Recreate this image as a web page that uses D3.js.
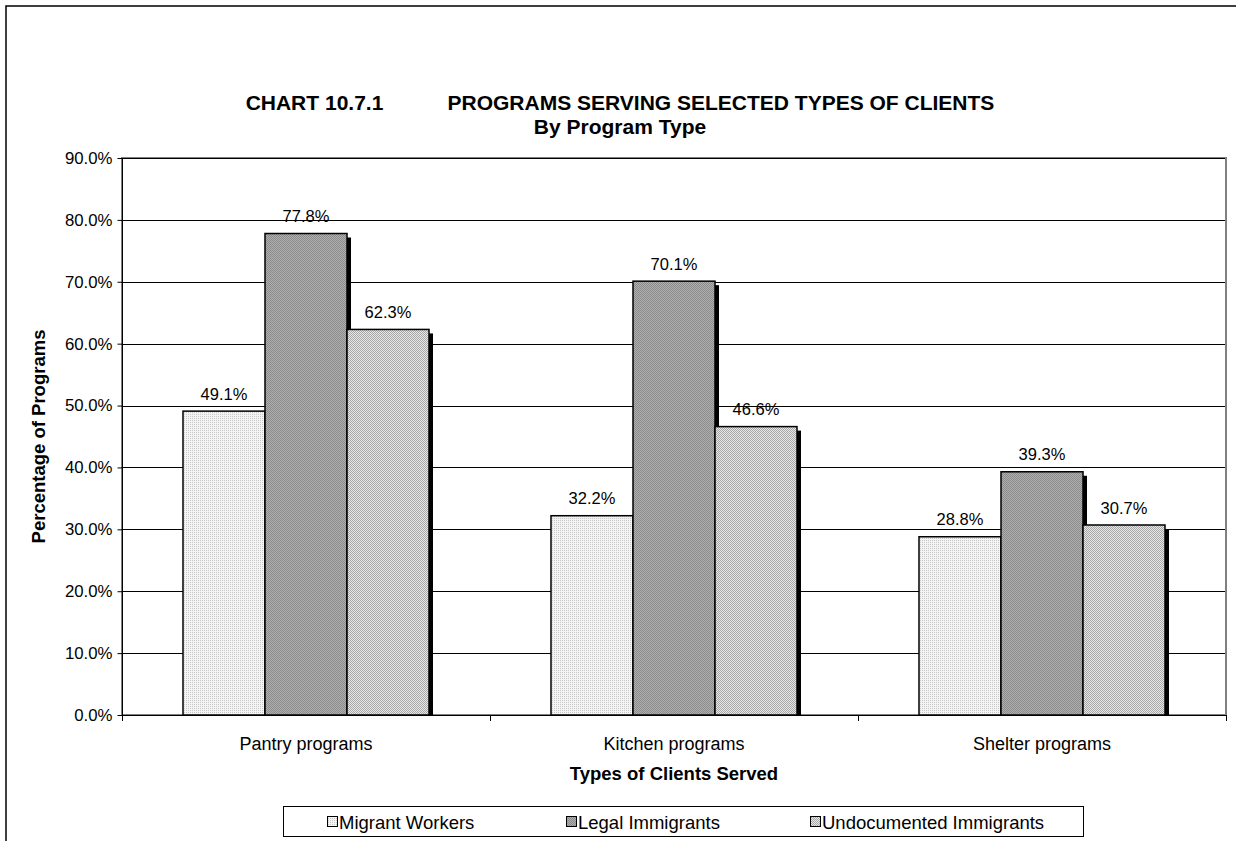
<!DOCTYPE html>
<html><head><meta charset="utf-8">
<script src="https://cdn.jsdelivr.net/npm/d3@7"></script>
<style>body{margin:0;background:#fff;}svg{display:block;font-family:"Liberation Sans",Arial,sans-serif;}</style>
</head><body>
<svg id="c" width="1236" height="841"></svg>
<script>
const categories = ["Pantry programs", "Kitchen programs", "Shelter programs"];
const seriesNames = ["Migrant Workers", "Legal Immigrants", "Undocumented Immigrants"];
const migrantWorkers = [49.1, 32.2, 28.8];
const legalImmigrants = [77.8, 70.1, 39.3];
const undocumentedImmigrants = [62.3, 46.6, 30.7];
const yTicks = [0, 10, 20, 30, 40, 50, 60, 70, 80, 90];
const titleLine1 = "CHART 10.7.1\u00a0\u00a0\u00a0\u00a0\u00a0\u00a0\u00a0\u00a0\u00a0\u00a0\u00a0PROGRAMS SERVING SELECTED TYPES OF CLIENTS";
const titleLine2 = "By Program Type";
const xTitle = "Types of Clients Served";
const yTitle = "Percentage of Programs";

const seriesValues = [migrantWorkers, legalImmigrants, undocumentedImmigrants];
const svg = d3.select("#c");
const defs = svg.append("defs");

function pat(id, bg, fg, cells) {
  const p = defs.append("pattern").attr("id", id).attr("patternUnits", "userSpaceOnUse")
    .attr("width", 2).attr("height", 2);
  p.append("rect").attr("width", 2).attr("height", 2).attr("fill", bg);
  cells.forEach(c => p.append("rect").attr("x", c[0]).attr("y", c[1]).attr("width", 1).attr("height", 1).attr("fill", fg));
}
pat("p0", "#f4f4f4", "#c8c8c8", [[0,0]]);
pat("p1", "#b0b0b0", "#8a8a8a", [[0,0],[1,1]]);
pat("p2", "#e6e6e6", "#a8a8a8", [[0,0],[1,1]]);
const fills = ["url(#p0)", "url(#p1)", "url(#p2)"];

svg.append("rect").attr("x", 6).attr("y", 6).attr("width", 1240).attr("height", 850)
  .attr("fill", "none").attr("stroke", "#000").attr("stroke-width", 1.5);

const L = 122, R = 1226, T = 158, B = 715;
const x0 = d3.scaleBand().domain(categories).range([L, R]).paddingInner(0).paddingOuter(0);
const groupPad = 61;
const x1 = d3.scaleBand().domain(seriesNames).range([0, x0.bandwidth() - 2 * groupPad]).padding(0);
const y = d3.scaleLinear().domain([0, 90]).range([B, T]);

svg.append("rect").attr("x", L).attr("y", T).attr("width", R - L).attr("height", B - T)
  .attr("fill", "none").attr("stroke", "#808080").attr("stroke-width", 2);

svg.append("g").selectAll("line").data(yTicks.slice(1)).join("line")
  .attr("x1", L).attr("x2", R - 1).attr("y1", d => Math.round(y(d)) + 0.5).attr("y2", d => Math.round(y(d)) + 0.5)
  .attr("stroke", "#000").attr("stroke-width", 1);

const rows = [];
categories.forEach((c, i) => seriesNames.forEach((s, j) => rows.push({c, s, j, v: seriesValues[j][i]})));
const gBars = svg.append("g");
gBars.selectAll("rect.sh").data(rows).join("rect").attr("class", "sh")
  .attr("x", d => x0(d.c) + groupPad + x1(d.s) + 4)
  .attr("y", d => y(d.v) + 4)
  .attr("width", x1.bandwidth())
  .attr("height", d => B - y(d.v) - 4)
  .attr("fill", "#000");
gBars.selectAll("rect.bar").data(rows).join("rect").attr("class", "bar")
  .attr("x", d => x0(d.c) + groupPad + x1(d.s))
  .attr("y", d => y(d.v))
  .attr("width", x1.bandwidth())
  .attr("height", d => B - y(d.v))
  .attr("fill", d => fills[d.j]).attr("stroke", "#000").attr("stroke-width", 1.5);

svg.append("g").selectAll("text").data(rows).join("text")
  .attr("x", d => x0(d.c) + groupPad + x1(d.s) + x1.bandwidth() / 2)
  .attr("y", d => y(d.v) - 11.5)
  .attr("text-anchor", "middle").attr("font-size", 16.5).attr("fill", "#000")
  .text(d => d.v.toFixed(1) + "%");

const yAxis = d3.axisLeft(y).tickValues(yTicks).tickFormat(d => d.toFixed(1) + "%").tickSize(5).tickPadding(5);
const gy = svg.append("g").attr("transform", `translate(${L + 0.5},0)`).call(yAxis);
gy.select(".domain").attr("stroke", "#000").attr("d", `M0,${T}V${B}`);
gy.selectAll(".tick line").attr("stroke", "#000");
gy.selectAll("text").attr("font-size", 16.8).attr("font-family", "Liberation Sans, Arial, sans-serif").attr("fill", "#000");

const xAxis = d3.axisBottom(x0).tickSize(0).tickPadding(22);
const gx = svg.append("g").attr("transform", `translate(0,${B + 0.5})`).call(xAxis);
gx.select(".domain").attr("stroke", "#000").attr("d", `M${L},0H${R}`);
gx.selectAll("text").attr("font-size", 18).attr("font-family", "Liberation Sans, Arial, sans-serif").attr("fill", "#000");
const bounds = categories.map(c => x0(c)).concat([R]);
svg.append("g").selectAll("line").data(bounds).join("line")
  .attr("x1", d => Math.round(d) + 0.5).attr("x2", d => Math.round(d) + 0.5)
  .attr("y1", B).attr("y2", B + 6).attr("stroke", "#000");

svg.append("text").attr("x", 620).attr("y", 109.5).attr("text-anchor", "middle")
  .attr("font-size", 21).attr("font-weight", "bold").text(titleLine1);
svg.append("text").attr("x", 620).attr("y", 133.5).attr("text-anchor", "middle")
  .attr("font-size", 21).attr("font-weight", "bold").text(titleLine2);
svg.append("text").attr("x", (L + R) / 2).attr("y", 779.5).attr("text-anchor", "middle")
  .attr("font-size", 18.5).attr("font-weight", "bold").text(xTitle);
svg.append("text").attr("transform", `translate(44.5,${(T + B) / 2}) rotate(-90)`).attr("text-anchor", "middle")
  .attr("font-size", 18.5).attr("font-weight", "bold").text(yTitle);

const lg = svg.append("g");
lg.append("rect").attr("x", 283.5).attr("y", 806.5).attr("width", 800).attr("height", 30)
  .attr("fill", "#fff").attr("stroke", "#000").attr("stroke-width", 1);
const legX = [327, 566, 810];
seriesNames.forEach((s, j) => {
  lg.append("rect").attr("x", legX[j] + 0.5).attr("y", 816.5).attr("width", 10).attr("height", 10)
    .attr("fill", fills[j]).attr("stroke", "#000").attr("stroke-width", 1);
  lg.append("text").attr("x", legX[j] + 12).attr("y", 828.5).attr("font-size", 18.5).text(s);
});
</script>
</body></html>
